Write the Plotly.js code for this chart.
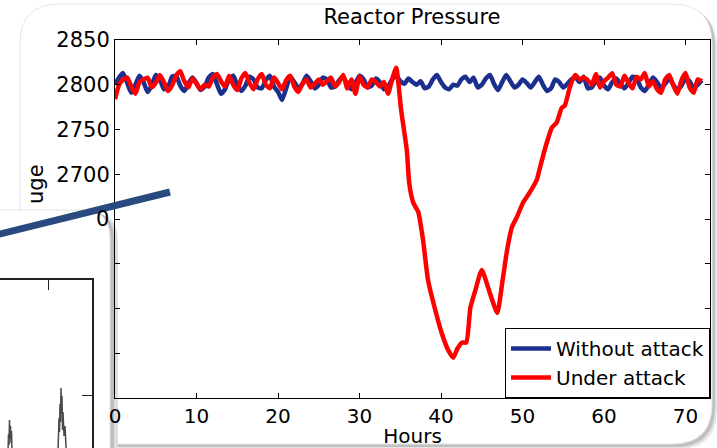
<!DOCTYPE html>
<html><head><meta charset="utf-8">
<script src="https://cdn.plot.ly/plotly-3.0.1.min.js"></script>
<style>html,body{margin:0;padding:0;background:#fff;overflow:hidden}#chart{width:717px;height:448px}</style>
</head><body><div id="chart"></div>
<script>
// ---------- data ----------
const hours = [0,0.5,1,1.5,2,2.5,3,3.5,4,4.5,5,5.5,6,6.5,7,7.5,8,8.5,9,9.5,10,10.5,11,11.5,12,12.5,13,13.5,14,14.5,
15,15.5,16,16.5,17,17.5,18,18.5,19,19.5,20,20.5,21,21.5,22,22.5,23,23.5,24,24.5,25,25.5,26,26.5,27,27.5,28,28.5,29,29.5,
30,30.5,31,31.5,32,32.5,33,33.5,34,34.5,35,35.5,36,36.5,37,37.5,38,38.5,39,39.5,40,40.5,41,41.5,42,42.5,43,43.5,44,44.5,
45,45.5,46,46.5,47,47.5,48,48.5,49,49.5,50,50.5,51,51.5,52,52.5,53,53.5,54,54.5,55,55.5,56,56.5,57,57.5,58,58.5,59,59.5,
60,60.5,61,61.5,62,62.5,63,63.5,64,64.5,65,65.5,66,66.5,67,67.5,68,68.5,69,69.5,70,70.5,71,71.5,72];
const withoutAttack = [
2800,2808,2813,2802,2791,2800,2810,2803,2792,2799,
2811,2806,2795,2797,2809,2810,2799,2793,2801,2808,
2802,2794,2798,2808,2812,2801,2790,2795,2806,2810,
2800,2793,2799,2809,2806,2797,2796,2805,2810,2798,
2792,2783,2796,2809,2803,2796,2801,2810,2804,2796,
2800,2808,2806,2797,2798,2805,2809,2800,2795,2802,
2810,2806,2797,2799,2807,2803,2795,2798,2806,2810,
2804,2801,2807,2803,2800,2804,2796,2798,2806,2811,
2803,2797,2795,2800,2799,2806,2809,2803,2808,2797,
2800,2807,2811,2801,2794,2803,2811,2804,2797,2800,
2806,2802,2797,2803,2809,2800,2793,2796,2806,2803,
2797,2801,2806,2808,2803,2809,2796,2797,2804,2808,
2799,2795,2803,2807,2801,2796,2802,2809,2807,2797,
2793,2800,2808,2803,2796,2801,2807,2800,2794,2799,
2807,2804,2796,2800,2805];
const attackHours = [0,0.5,1,1.5,2,2.5,3,3.5,4,4.5,5,5.5,6,6.5,7,7.5,8,8.5,9,9.5,10,10.5,11,11.5,12,12.5,13,13.5,14,14.5,
15,15.5,16,16.5,17,17.5,18,18.5,19,19.5,20,20.5,21,21.5,22,22.5,23,23.5,24,24.5,25,25.5,26,26.5,27,27.5,28,28.5,29,29.5,
30,30.5,31,31.5,32,32.5,33,33.5,34,34.5,
35.1,35.8,36.1,36.6,37.2,37.8,38.4,39.3,40.1,40.9,41.5,42.0,42.6,43.1,43.6,44.2,45.0,46.0,46.9,47.5,48.1,48.7,49.3,50.1,50.7,
51.3,51.8,52.1,53.0,53.6,54.2,54.8,55.2,55.8,56.2,
56.5,57,57.5,58,58.5,59,59.5,60,60.5,61,61.5,62,62.5,63,63.5,64,64.5,65,65.5,66,66.5,67,67.5,68,68.5,69,69.5,70,70.5,71,71.5,72];
const underAttack = [
2784,2800,2806,2808,2798,2790,2803,2806,2808,2797,
2802,2811,2803,2793,2799,2810,2815,2804,2797,2807,
2801,2795,2800,2798,2808,2812,2804,2798,2810,2800,
2794,2807,2813,2802,2795,2806,2812,2800,2796,2808,
2802,2795,2805,2810,2798,2792,2801,2806,2797,2801,
2806,2800,2804,2808,2798,2803,2811,2796,2806,2790,
2809,2800,2797,2806,2803,2798,2803,2790,2806,2819,
2772,2727,2690,2668,2658,2626,2582,2548,2522,2503,2495,2505,2512,2512,2551,2570,2593,2567,2545,2578,2615,2641,2652,2669,2677,
2686,2695,2706,2736,2752,2758,2774,2777,2797,2807,
2811,2806,2808,2805,2800,2812,2797,2804,2808,2813,2800,2798,2810,2802,2796,2809,2806,2813,2798,2804,2795,2791,2806,2811,2799,2790,2805,2813,2797,2791,2806,2804];
const xTickVals = [0,10,20,30,40,50,60,70];
const yTickVals = [2450,2500,2550,2600,2650,2700,2750,2800,2850];
const yTickText = ['','','','','','2700','2750','2800','2850'];
// partly hidden background figure (lower-left)
const insetX = [0,7,8,8.5,9,9.5,10,10.5,11,11.5,12,13,40,57,58,58.5,59,59.5,60,60.5,61,61.5,62,62.5,63,64,65,66,67,80,92];
const insetY = [-20,-20,-4,14,3,28,9,22,5,17,-3,-20,-20,-20,-4,12,30,16,44,26,60,34,52,18,36,12,22,2,-20,-20,-20];

// ---------- layout helpers (pixel -> paper) ----------
const W = 717, H = 448;
const X = v => v / W, Y = v => 1 - v / H;
function rr(x0, y0, x1, y1, r) {
  const f = n => n.toFixed(5);
  return `M${f(X(x0+r))},${f(Y(y0))} L${f(X(x1-r))},${f(Y(y0))} Q${f(X(x1))},${f(Y(y0))} ${f(X(x1))},${f(Y(y0+r))} ` +
         `L${f(X(x1))},${f(Y(y1-r))} Q${f(X(x1))},${f(Y(y1))} ${f(X(x1-r))},${f(Y(y1))} ` +
         `L${f(X(x0+r))},${f(Y(y1))} Q${f(X(x0))},${f(Y(y1))} ${f(X(x0))},${f(Y(y1-r))} ` +
         `L${f(X(x0))},${f(Y(y0+r))} Q${f(X(x0))},${f(Y(y0))} ${f(X(x0+r))},${f(Y(y0))} Z`;
}
const card = (path, fill, line) => ({type:'path', xref:'paper', yref:'paper', path, fillcolor:fill,
  line:{color: line || fill, width: line ? 1 : 0}, layer:'below'});

const font = 'DejaVu Sans, Arial, sans-serif';
const traces = [
  {x: hours, y: withoutAttack, name: 'Without attack', type: 'scatter', mode: 'lines',
   line: {color: '#1a2f8e', width: 4.5, shape: 'spline', smoothing: 0.5}, xaxis: 'x', yaxis: 'y'},
  {x: attackHours, y: underAttack, name: 'Under attack', type: 'scatter', mode: 'lines',
   line: {color: '#ff0000', width: 4.5, shape: 'spline', smoothing: 0.5}, xaxis: 'x', yaxis: 'y'},
  {x: insetX, y: insetY, type: 'scatter', mode: 'lines', showlegend: false, hoverinfo: 'skip',
   line: {color: '#4a4a4a', width: 1.5}, xaxis: 'x2', yaxis: 'y2'}
];

const layout = {
  width: W, height: H,
  margin: {l: 0, r: 0, t: 0, b: 0},
  paper_bgcolor: '#ffffff', plot_bgcolor: 'rgba(0,0,0,0)',
  font: {family: font, size: 21, color: '#000'},
  showlegend: true,
  title: {text: 'Reactor Pressure', x: X(412), xanchor: 'center', y: Y(17), yanchor: 'middle',
          font: {family: font, size: 21, color: '#000'}},
  xaxis: {domain: [X(115), X(710)], range: [0, 73], anchor: 'y',
          tickvals: xTickVals, ticks: 'inside', ticklen: 5, tickcolor: '#000', tickwidth: 1,
          showline: true, linecolor: '#000', linewidth: 1, mirror: 'ticks',
          showgrid: false, zeroline: false, tickfont: {size: 20},
          title: {text: 'Hours', standoff: 4, font: {size: 20}}},
  yaxis: {domain: [Y(398), Y(40)], range: [2450, 2850], anchor: 'x',
          tickvals: yTickVals, ticktext: yTickText, ticks: 'inside', ticklen: 5, tickcolor: '#000', tickwidth: 1,
          showline: true, linecolor: '#000', linewidth: 1, mirror: 'ticks',
          showgrid: false, zeroline: false, tickfont: {size: 21}},
  xaxis2: {domain: [0, X(92)], range: [0, 92], anchor: 'y2', side: 'top',
           showline: true, linecolor: '#222', linewidth: 2, ticks: 'inside', ticklen: 10, tickcolor: '#222',
           tickvals: [48], showticklabels: false, showgrid: false, zeroline: false, fixedrange: true},
  yaxis2: {domain: [0, Y(280)], range: [0, 168], anchor: 'x2', side: 'right',
           showline: true, linecolor: '#222', linewidth: 2, ticks: 'inside', ticklen: 10, tickcolor: '#222',
           tickvals: [53, 167], showticklabels: false, showgrid: false, zeroline: false, fixedrange: true},
  legend: {x: X(710), xanchor: 'right', y: Y(398), yanchor: 'bottom',
           bgcolor: '#ffffff', bordercolor: '#000', borderwidth: 1, itemwidth: 40,
           font: {family: font, size: 20, color: '#000'}, tracegroupgap: 0},
  shapes: [
    // main slide card with soft shadow
    card(rr(25, 9, 717, 449, 40), '#e3e3e3'),
    card(rr(22, 6, 715, 447, 40), '#bfbfbf'),
    card(rr(20, 4, 712, 444, 40), '#ffffff', '#e6e6e6'),
    // overlapping card at lower-left
    card(rr(-40, 213, 118, 520, 28), '#dedede'),
    card(rr(-40, 211, 114, 520, 28), '#bdbdbd'),
    card(rr(-40, 210, 110, 520, 28), '#ffffff', '#e4e4e4'),
    // dark connector stroke drawn on top
    {type: 'line', xref: 'paper', yref: 'paper', x0: X(-4), y0: Y(235), x1: X(170), y1: Y(192),
     line: {color: '#284a7e', width: 7}, layer: 'above'}
  ],
  annotations: [
    {text: 'uge', xref: 'paper', yref: 'paper', x: X(36), y: Y(184), xanchor: 'center', yanchor: 'middle',
     textangle: -90, showarrow: false, font: {family: font, size: 21, color: '#000'}},
    {text: '0', xref: 'paper', yref: 'paper', x: X(103), y: Y(219), xanchor: 'center', yanchor: 'middle',
     showarrow: false, font: {family: font, size: 21, color: '#000'}}
  ]
};

Plotly.newPlot('chart', traces, layout, {staticPlot: true, displayModeBar: false});
</script>
</body></html>
